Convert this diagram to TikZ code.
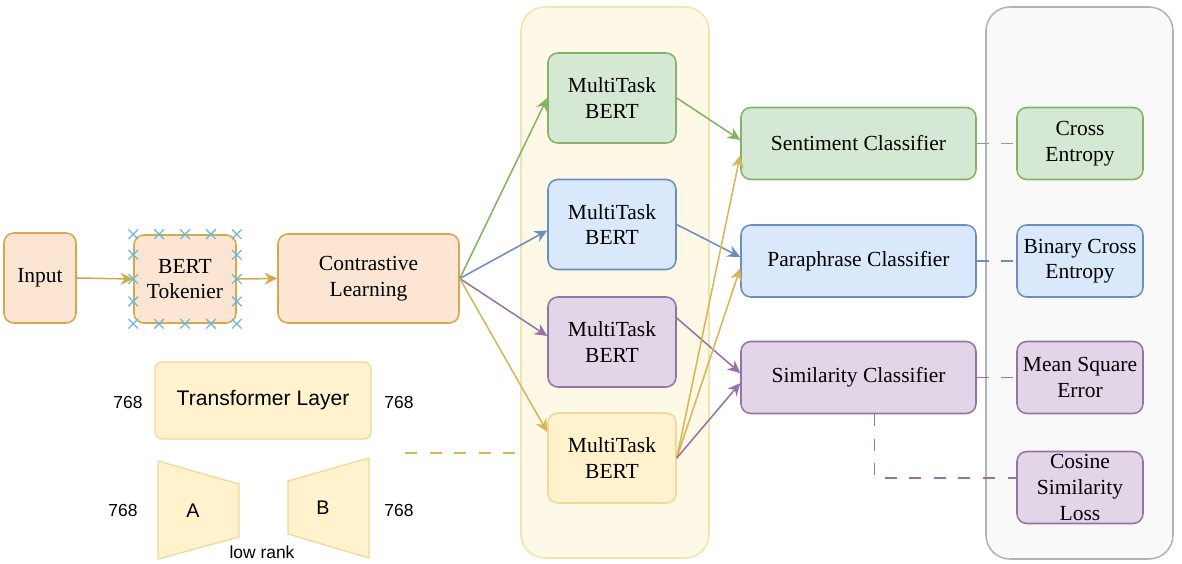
\documentclass[tikz,border=0pt]{standalone}
\usepackage{fontspec}
\setmainfont{Liberation Serif}
\setsansfont{Liberation Sans}
\usetikzlibrary{
    arrows.meta,
    calc
}

\definecolor{orfill}{HTML}{FCE5D2}
\definecolor{orline}{HTML}{D6A84C}
\definecolor{gnfill}{HTML}{D5E8D4}
\definecolor{gnline}{HTML}{82B366}
\definecolor{blfill}{HTML}{DAE8FC}
\definecolor{blline}{HTML}{6C8EBF}
\definecolor{pufill}{HTML}{E1D5E7}
\definecolor{puline}{HTML}{9673A6}
\definecolor{yefill}{HTML}{FFF2CC}
\definecolor{yeline}{HTML}{D6B656}
\definecolor{yelight}{HTML}{EDD99C}
\definecolor{yebg}{HTML}{FEF8E7}
\definecolor{yebgline}{HTML}{F2E3B3}
\definecolor{gybg}{HTML}{F9F9F9}
\definecolor{gyline}{HTML}{B3B3B3}
\definecolor{tokx}{HTML}{6BB8E0}

\tikzset{
    blk/.style={draw, rounded corners=7pt, line width=1.1pt, align=center, inner sep=0pt,
        font=\fontsize{15.3}{18.2}\selectfont},
    orng/.style={fill=orfill, draw=orline},
    grn/.style={fill=gnfill, draw=gnline},
    blu/.style={fill=blfill, draw=blline},
    pur/.style={fill=pufill, draw=puline},
    yel/.style={fill=yefill, draw=yelight},
    mt/.style={minimum width=3.2cm, minimum height=2.25cm},
    cls/.style={minimum width=5.875cm, minimum height=1.8cm},
    loss/.style={minimum width=3.15cm, minimum height=1.8cm},
    panel/.style={rounded corners=17pt, line width=1.1pt},
    arr/.style={-{Stealth[length=9pt, width=8.5pt, inset=3pt]}, line width=1.1pt},
    dsh/.style={dash pattern=on 8.5pt off 9pt, line width=1.2pt},
    dimlbl/.style={font=\sffamily\fontsize{12.4}{14}\selectfont, inner sep=0pt},
    trap/.style={fill=yefill, draw=yelight, line width=0.9pt}
}

\begin{document}
\begin{tikzpicture}
    \useasboundingbox (0,0) rectangle (29.55,14.075);
    % panels behind
    \node (encbg) [panel, fill=yebg, draw=yebgline, minimum width=4.7cm, minimum height=13.775cm] at (15.375,7.0125) {};
    \node (lossbg) [panel, fill=gybg, draw=gyline, minimum width=4.675cm, minimum height=13.8cm] at (26.9875,7.0) {};

    % input side
    \node (inp) [blk, orng, minimum width=1.8cm, minimum height=2.25cm] at (1.0,7.125) {Input};
    \node (tok) [blk, orng, minimum width=2.55cm, minimum height=2.2cm] at (4.625,7.1) {BERT\\Tokenier};
    \node (con) [blk, orng, minimum width=4.525cm, minimum height=2.225cm] at (9.2125,7.1125) {Contrastive\\Learning};
    \foreach \f in {0,0.25,0.5,0.75,1} {
        \draw[tokx, line width=0.9pt] ($(tok.north west)!\f!(tok.north east)$) +(-0.12,-0.12) -- +(0.12,0.12) +(-0.12,0.12) -- +(0.12,-0.12);
        \draw[tokx, line width=0.9pt] ($(tok.south west)!\f!(tok.south east)$) +(-0.12,-0.12) -- +(0.12,0.12) +(-0.12,0.12) -- +(0.12,-0.12);
    }
    \foreach \f in {0.23,0.5,0.75} {
        \draw[tokx, line width=0.9pt] ($(tok.north west)!\f!(tok.south west)$) +(-0.12,-0.12) -- +(0.12,0.12) +(-0.12,0.12) -- +(0.12,-0.12);
        \draw[tokx, line width=0.9pt] ($(tok.north east)!\f!(tok.south east)$) +(-0.12,-0.12) -- +(0.12,0.12) +(-0.12,0.12) -- +(0.12,-0.12);
    }
    \draw[arr, orline] (inp.east) -- (tok.west);
    \draw[arr, orline] (tok.east) -- (con.west);

    % multitask encoders
    \node (mtg) [blk, grn, mt] at (15.3,11.625) {MultiTask\\BERT};
    \node (mtb) [blk, blu, mt] at (15.3,8.4625) {MultiTask\\BERT};
    \node (mtp) [blk, pur, mt] at (15.3,5.525) {MultiTask\\BERT};
    \node (mty) [blk, yel, mt] at (15.3,2.625) {MultiTask\\BERT};

    % heads and losses
    \node (sent) [blk, grn, cls] at (21.4625,10.4875) {Sentiment Classifier};
    \node (para) [blk, blu, cls] at (21.4625,7.55) {Paraphrase Classifier};
    \node (simi) [blk, pur, cls] at (21.4625,4.6375) {Similarity Classifier};
    \node (ce) [blk, grn, loss] at (27.0,10.4875) {Cross\\Entropy};
    \node (bce) [blk, blu, loss] at (27.0,7.55) {Binary Cross\\Entropy};
    \node (mse) [blk, pur, loss] at (27.0,4.6375) {Mean Square\\Error};
    \node (cos) [blk, pur, loss] at (27.0,1.8875) {Cosine\\Similarity\\Loss};

    \draw[arr, gnline] (con.east) -- (mtg.west);
    \draw[arr, blline] (con.east) -- ([yshift=-0.15cm]mtb.west);
    \draw[arr, puline] (con.east) -- ([yshift=0.15cm]mtp.west);
    \draw[arr, yeline] (con.east) -- ([yshift=0.65cm]mty.west);

    \draw[arr, gnline] (mtg.east) -- ([yshift=0.09cm]sent.west);
    \draw[arr, blline] (mtb.east) -- ([yshift=0.1cm]para.west);
    \draw[arr, puline] ([yshift=0.6cm]mtp.east) -- ([yshift=0.11cm]simi.west);
    \draw[arr, yeline] (mty.east) -- ([yshift=-0.29cm]sent.west);
    \draw[arr, yeline] (mty.east) -- ([yshift=-0.18cm]para.west);
    \draw[arr, puline] (mty.east) -- ([yshift=-0.14cm]simi.west);

    \draw[dsh, gnline!85!gray] (sent.east) -- (ce.west);
    \draw[dsh, blline] (para.east) -- (bce.west);
    \draw[dsh, puline] (simi.east) -- (mse.west);
    \draw[dsh, puline] ([xshift=0.4cm]simi.south) |- ([yshift=0.24cm]cos.west);

    % lora detail
    \node (tfl) [fill=yefill, draw=yelight, rounded corners=5pt, line width=0.9pt, minimum width=5.4cm, minimum height=1.925cm,
        font=\sffamily\fontsize{15}{18}\selectfont] at (6.575,4.0625) {Transformer Layer};
    \node (din) [dimlbl] at (3.2,4.025) {768};
    \node (dout) [dimlbl] at (9.975,4.025) {768};
    \draw[trap] (3.95,2.55) -- (5.975,1.975) -- (5.975,0.65) -- (3.95,0.1) -- cycle;
    \draw[trap] (7.2,2.05) -- (9.225,2.625) -- (9.225,0.125) -- (7.2,0.725) -- cycle;
    \node (ma) [dimlbl, font=\sffamily\fontsize{14}{16}\selectfont] at (4.825,1.3) {A};
    \node (mb) [dimlbl, font=\sffamily\fontsize{14}{16}\selectfont] at (8.075,1.375) {B};
    \node (ain) [dimlbl] at (3.075,1.325) {768};
    \node (bout) [dimlbl] at (9.975,1.325) {768};
    \node (rk) [dimlbl] at (6.55,0.275) {low rank};
    \coordinate (lora) at (10.125,2.75);
    \draw[dsh, yeline] (lora) -- (lora -| encbg.west);
\end{tikzpicture}
\end{document}
